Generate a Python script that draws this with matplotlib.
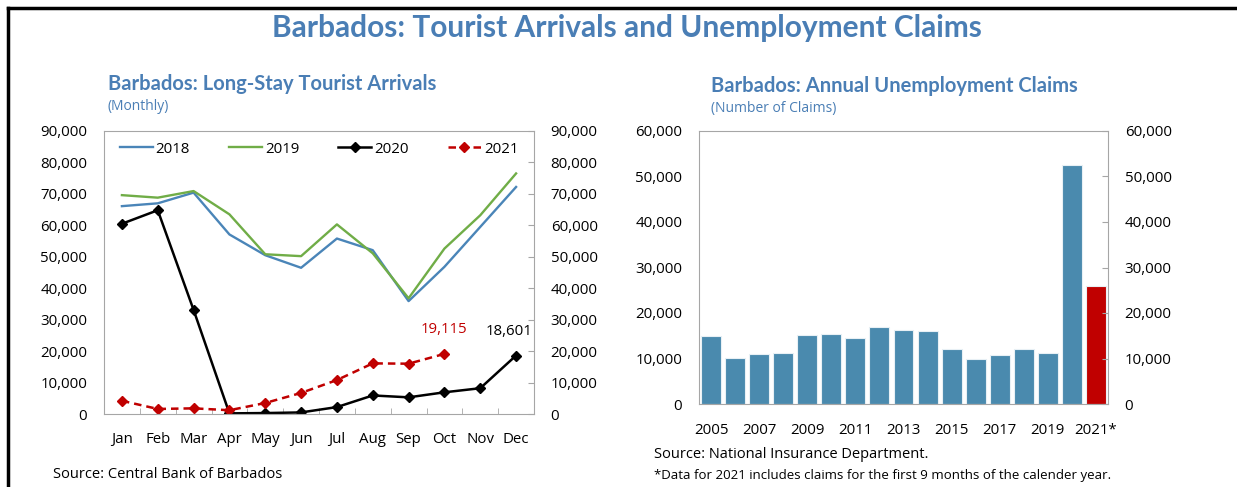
import matplotlib
matplotlib.use("Agg")
import matplotlib.pyplot as plt
from matplotlib.lines import Line2D

plt.rcParams["font.family"] = ["Open Sans", "DejaVu Sans"]

months = ["Jan", "Feb", "Mar", "Apr", "May", "Jun", "Jul", "Aug", "Sep", "Oct", "Nov", "Dec"]
arr_2018 = [66100, 67000, 70400, 57100, 50500, 46500, 55800, 52100, 35900, 46800, 59500, 72200]
arr_2019 = [69600, 68800, 70900, 63500, 50800, 50200, 60300, 51100, 36800, 52600, 63200, 76500]
arr_2020 = [60500, 64800, 33100, 200, 300, 500, 2200, 5900, 5300, 6900, 8200, 18601]
arr_2021 = [4200, 1600, 1800, 1200, 3500, 6700, 10800, 16100, 16000, 19115]

years = [str(y) for y in range(2005, 2021)] + ["2021*"]
claims = [14900, 10100, 10900, 11100, 15100, 15400, 14400, 17000, 16300, 16100,
          12100, 9900, 10700, 12100, 11200, 52500, 25900]
year_ticks = ["2005", "2007", "2009", "2011", "2013", "2015", "2017", "2019", "2021*"]

title_blue = "#4A7EB5"
frame_gray = "#A6A6A6"
tick_size = 10.8

fig = plt.figure(figsize=(12.37, 4.87), dpi=100)

# outer border (top and left)
fig.add_artist(Line2D([8 / 1237, 8 / 1237], [0, 1 - 8 / 487], color="black", lw=2.5))
fig.add_artist(Line2D([8 / 1237, 1], [1 - 8 / 487, 1 - 8 / 487], color="black", lw=2.5))

fig.text(0.5065, 1 - 28 / 487, "Barbados: Tourist Arrivals and Unemployment Claims",
         ha="center", va="center", fontsize=21.5, fontweight="bold", color=title_blue,
         family=["Lato", "DejaVu Sans"])

# ---- left: tourist arrivals
ax1 = fig.add_axes([104 / 1237, 1 - 414 / 487, 430 / 1237, 283 / 487])
x = list(range(12))
ax1.plot(x, arr_2018, color="#4A85B8", lw=1.7, label="2018")
ax1.plot(x, arr_2019, color="#70AD47", lw=1.7, label="2019")
ax1.plot(x, arr_2020, color="black", lw=1.8, marker="D", ms=5, label="2020")
ax1.plot(list(range(len(arr_2021))), arr_2021, color="#C00000", lw=1.8, ls=(0, (3, 2)),
         marker="D", ms=5, label="2021")
ax1.set_xlim(-0.5, 11.5)
ax1.set_ylim(0, 90000)
ax1.set_yticks(range(0, 90001, 10000))
ax1.set_xticks(x)
ax1.set_xticklabels(months)
ax1.set_xticks([i + 0.5 for i in range(11)], minor=True)
ax1.tick_params(axis="x", which="major", length=0, labelsize=tick_size, pad=13)
ax1.tick_params(axis="x", which="minor", direction="in", length=4, color=frame_gray)
ax1.tick_params(axis="y", direction="in", length=4, color=frame_gray, labelsize=tick_size,
                left=False, right=True, labelright=True, labelleft=True, pad=12)
ax1.yaxis.set_major_formatter(matplotlib.ticker.StrMethodFormatter("{x:,.0f}"))
for s in ax1.spines.values():
    s.set_color(frame_gray)
ax1.legend(loc="upper center", ncol=4, frameon=False, fontsize=tick_size,
           bbox_to_anchor=(0.5, 1.01), columnspacing=2.6, handlelength=2.2, handletextpad=0.2)
ax1.annotate(f"{arr_2021[9]:,}", (9, arr_2021[9]), xytext=(0, 12), textcoords="offset points",
             ha="center", va="bottom", color="#C00000", fontsize=tick_size)
ax1.annotate(f"{arr_2020[11]:,}", (11, arr_2020[11]), xytext=(-5, 12), textcoords="offset points",
             ha="center", va="bottom", color="black", fontsize=tick_size)

fig.text(108 / 1237, 1 - 84 / 487, "Barbados: Long-Stay Tourist Arrivals", ha="left", va="center",
         fontsize=14.5, fontweight="bold", color=title_blue, family=["Lato", "DejaVu Sans"])
fig.text(108 / 1237, 1 - 107 / 487, "(Monthly)", ha="left", va="center",
         fontsize=10, color=title_blue)
fig.text(53 / 1237, 1 - 475 / 487, "Source: Central Bank of Barbados", ha="left", va="center",
         fontsize=10.5)

# ---- right: unemployment claims
ax2 = fig.add_axes([699 / 1237, 1 - 404 / 487, 409 / 1237, 273 / 487])
colors = ["#4A8AAE"] * (len(claims) - 1) + ["#C00000"]
ax2.bar(range(len(claims)), claims, width=0.83, color=colors, edgecolor="#E8F0F5", linewidth=0.8)
ax2.set_xlim(-0.5, len(claims) - 0.5)
ax2.set_ylim(0, 60000)
ax2.set_yticks(range(0, 60001, 10000))
ax2.set_xticks([years.index(t) for t in year_ticks])
ax2.set_xticklabels(year_ticks)
ax2.tick_params(axis="x", length=0, labelsize=tick_size, pad=14)
ax2.tick_params(axis="y", direction="in", length=4, color=frame_gray, labelsize=tick_size,
                left=False, right=True, labelright=True, labelleft=True, pad=12)
ax2.yaxis.set_major_formatter(matplotlib.ticker.StrMethodFormatter("{x:,.0f}"))
for s in ax2.spines.values():
    s.set_color(frame_gray)

fig.text(711 / 1237, 1 - 86 / 487, "Barbados: Annual Unemployment Claims", ha="left", va="center",
         fontsize=14.5, fontweight="bold", color=title_blue, family=["Lato", "DejaVu Sans"])
fig.text(711 / 1237, 1 - 109 / 487, "(Number of Claims)", ha="left", va="center",
         fontsize=10, color=title_blue)
fig.text(654 / 1237, 1 - 455 / 487, "Source: National Insurance Department.", ha="left",
         va="center", fontsize=10.5)
fig.text(654 / 1237, 1 - 475 / 487,
         "*Data for 2021 includes claims for the first 9 months of the calender year.",
         ha="left", va="center", fontsize=9.5)

fig.savefig("out.png", dpi=100)
